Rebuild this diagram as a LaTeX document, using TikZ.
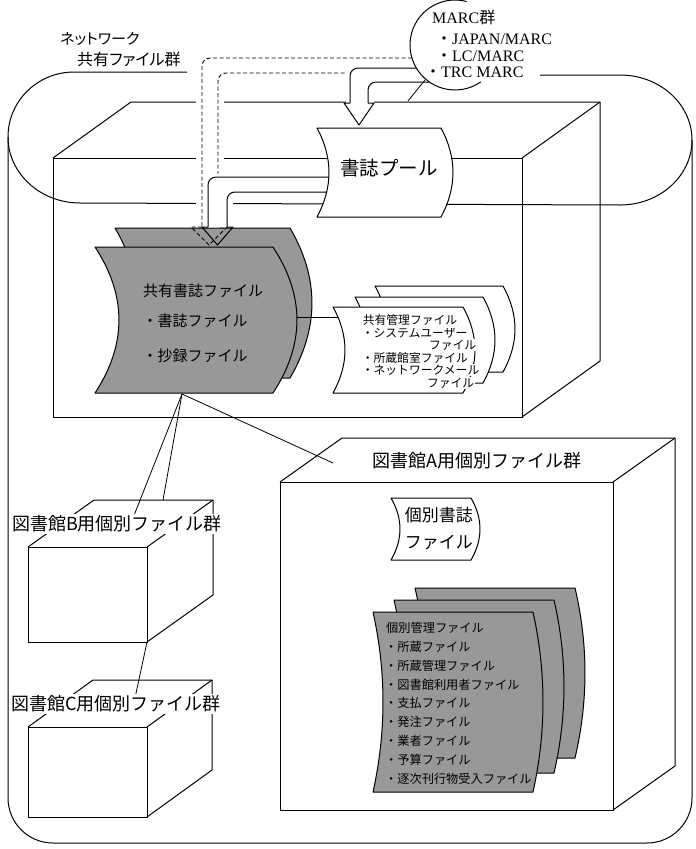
\documentclass[tikz,border=0pt]{standalone}
\usepackage{fontspec}
\setmainfont{Liberation Serif}
\newfontfamily\jp{Noto Sans CJK JP}
\newfontfamily\jpp[RawFeature=+palt]{Noto Sans CJK JP}
\definecolor{sheetgray}{RGB}{152,152,152}
\newcommand{\fsz}[1]{\fontsize{#1}{#1}\selectfont}
% sheet: style, x0, y0, w, h, bulge
\newcommand{\sheet}[6]{\draw[#1] (#2,#3) -- ({#2+#4},#3) .. controls ({#2+#4+1.33*#6},{#3+#5/3}) and ({#2+#4+1.33*#6},{#3+2*#5/3}) .. ({#2+#4},{#3+#5}) -- (#2,{#3+#5}) .. controls ({#2+1.33*#6},{#3+2*#5/3}) and ({#2+1.33*#6},{#3+#5/3}) .. cycle;}
% cuboid: x1,y1 (front top-left), x2,y2 (front bottom-right), dx, dy depth
\newcommand{\cuboid}[6]{%
 \draw[ln] (#1,#2) rectangle (#3,#4);
 \draw[ln] (#1,#2) -- ({#1+#5},{#2+#6}) -- ({#3+#5},{#2+#6}) -- ({#3+#5},{#4+#6}) -- (#3,#4);
 \draw[ln] (#3,#2) -- ({#3+#5},{#2+#6});}
\begin{document}
\begin{tikzpicture}[x=1pt,y=-1pt,line join=round,
  ln/.style={line width=1pt},
  cn/.style={line width=0.8pt},
  dsh/.style={line width=0.9pt,dash pattern=on 4pt off 2.5pt},
  tx/.style={inner sep=0pt,anchor=west},
  txe/.style={inner sep=0pt,anchor=east},
  jlab/.style={font=\jp\fsz{18},inner sep=1.5pt,fill=white},
  mg/.style={font=\jp\fsz{11.8},inner sep=0.6pt,fill=white},
  kb/.style={font=\jp\fsz{12.2},inner sep=0pt,anchor=west}]
\useasboundingbox (0,0) rectangle (696,849);

% ---- network tube and outer container
\draw[ln] (187,72) -- (74,72) .. controls (37.6,72) and (8,101) .. (8,137)
   .. controls (8,173) and (40,203) .. (80,203) -- (620,205)
   .. controls (659.7,205) and (692,176) .. (692,140)
   .. controls (692,104) and (659.7,75) .. (620,75) -- (540,75);
\draw[ln,rounded corners=45] (8,137) -- (8,843) -- (692,843) -- (692,140);
\node[tx,font=\jpp\fsz{15}] (netA) at (60,39) {ネットワーク};
\node[tx,font=\jpp\fsz{16}] (netB) at (77,59) {共有ファイル群};

% ---- shared box
\cuboid{53}{158}{522}{417}{78}{-56}

% ---- shared bibliographic file (gray sheets)
\sheet{ln,fill=sheetgray}{115}{228}{175}{150}{22}
\sheet{ln,fill=sheetgray}{95}{247}{178}{146}{24}
\node[tx,font=\jp\fsz{15}] (kyoA) at (143,291) {共有書誌ファイル};
\node[tx,font=\jp\fsz{15}] (kyoB) at (142.5,321) {・書誌ファイル};
\node[tx,font=\jp\fsz{15}] (kyoC) at (142.5,356) {・抄録ファイル};
\coordinate (kyoR) at (297,317);
\coordinate (kyoBot) at (182,394);

% ---- dashed arrow from MARC to shared file
\fill[white] (196,52) rectangle (224,216);
\fill[white] (202,58) -- (412,58) -- (420,73) -- (218,73) -- (218,227) -- (202,227) -- cycle;
\draw[dsh,rounded corners=8] (412,58) -- (202,58) -- (202,227);
\draw[dsh] (202,227) -- (191,227) -- (209,245) -- (227,227) -- (218,227);
\draw[dsh,rounded corners=8] (218,227) -- (218,73) -- (420,73);

% ---- hollow arrow from MARC to pool
\fill[white] (346,64) rectangle (374,110);
\fill[white] (416,68) -- (350,68) -- (350,103) -- (368,103) -- (368,82) -- (429,82) -- cycle;
\draw[ln,rounded corners=8] (416,68) -- (350,68) -- (350,103);
\draw[ln] (350,103) -- (344,103) -- (359,125) -- (374,103) -- (368,103);
\draw[ln,rounded corners=8] (368,103) -- (368,82) -- (429,82);

% ---- hollow arrow from pool to shared file
\fill[white] (205,174) rectangle (233,216);
\fill[white] (335,177) -- (208,177) -- (208,227) -- (227,227) -- (227,192) -- (335,192) -- cycle;
\draw[ln,rounded corners=8] (335,177) -- (208,177) -- (208,227);
\draw[ln] (208,227) -- (202,227) -- (217.5,245) -- (233,227) -- (227,227);
\draw[ln,rounded corners=8] (227,227) -- (227,192) -- (335,192);

% ---- bibliographic pool
\sheet{ln,fill=white}{317}{128}{124}{89}{12}
\node[font=\jp\fsz{19.5},inner sep=0pt] (pool) at (389,168) {書誌プール};

% ---- MARC circle
\draw[ln] ([shift={(-75:45)}]455,45) arc[start angle=-75,end angle=-305,radius=45];
\draw[cn] (425,80) -- (408,101);
\node[tx,font=\fsz{16}] (marc0) at (432,17) {MARC{\jp 群}};
\node[tx,font=\fsz{16}] (marc1) at (436,39) {{\jp ・}JAPAN/MARC};
\node[tx,font=\fsz{16}] (marc2) at (436,56) {{\jp ・}LC/MARC};
\node[tx,font=\fsz{16}] (marc3) at (425,72) {{\jp ・}TRC MARC};

% ---- shared management file (white sheets)
\draw[cn] (kyoR) -- (340,317);
\sheet{ln,fill=white}{375}{286}{128}{86}{12}
\sheet{ln,fill=white}{355}{297}{128}{86}{12}
\sheet{ln,fill=white}{333}{307}{130}{86}{12}
\node[mg,anchor=west] (mgA) at (362,320) {共有管理ファイル};
\node[mg,anchor=west] (mgB) at (361,333) {・システムユーザー};
\node[mg,anchor=east] (mgC) at (477,345) {ファイル};
\node[mg,anchor=west] (mgD) at (361,358) {・所蔵館室ファイル};
\node[mg,anchor=west] (mgE) at (361,370) {・ネットワークメール};
\node[mg,anchor=east] (mgF) at (475,383) {ファイル};

% ---- library boxes
\cuboid{280}{482}{613}{810}{62}{-44}
\cuboid{28}{547}{147}{642}{66}{-47}
\cuboid{28}{727}{147}{817}{65}{-47}
\coordinate (bTop) at (163,500);
\coordinate (aTop) at (333,463);
\coordinate (bBot) at (147,642);

\draw[cn] (kyoBot) -- (bTop);
\draw[cn] (kyoBot) -- (133,518);
\draw[cn] (kyoBot) -- (aTop);
\draw[cn] (bBot) -- (135,698);

\node[jlab] (labA) at (477,461) {図書館A用個別ファイル群};
\node[jlab] (labB) at (117,524) {図書館B用個別ファイル群};
\node[jlab] (labC) at (116,704) {図書館C用個別ファイル群};

% ---- individual bibliographic file
\sheet{ln,fill=white}{391}{498}{80}{62}{9}
\node[txe,font=\jp\fsz{17}] (indA) at (473,515) {個別書誌};
\node[txe,font=\jp\fsz{17}] (indB) at (473,543) {ファイル};

% ---- individual management file (gray sheets)
\sheet{ln,fill=sheetgray}{415}{588}{160}{170}{10}
\sheet{ln,fill=sheetgray}{394}{600}{160}{173}{10}
\sheet{ln,fill=sheetgray}{373}{612}{160}{180}{10}
\node[kb] (k0) at (386,628) {個別管理ファイル};
\node[kb] (k1) at (385,646.8) {・所蔵ファイル};
\node[kb] (k2) at (385,665.6) {・所蔵管理ファイル};
\node[kb] (k3) at (385,684.4) {・図書館利用者ファイル};
\node[kb] (k4) at (385,703.2) {・支払ファイル};
\node[kb] (k5) at (385,722) {・発注ファイル};
\node[kb] (k6) at (385,740.8) {・業者ファイル};
\node[kb] (k7) at (385,759.6) {・予算ファイル};
\node[kb] (k8) at (385,778.4) {・逐次刊行物受入ファイル};
\end{tikzpicture}
\end{document}
